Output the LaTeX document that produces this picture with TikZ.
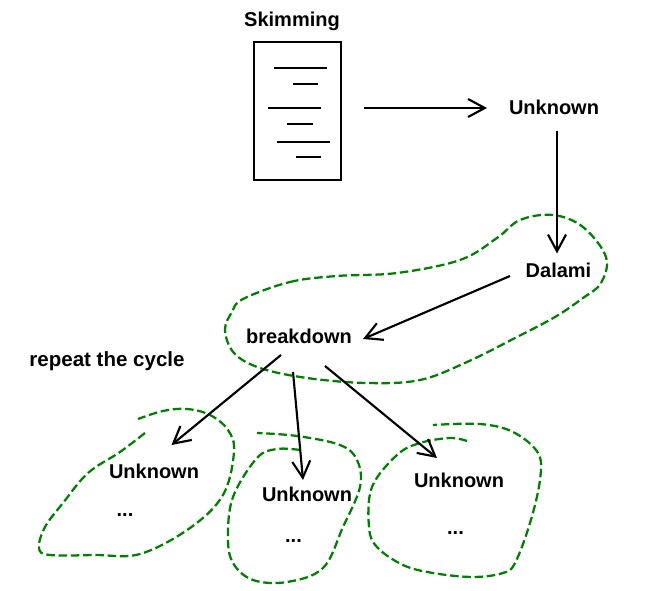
\documentclass[tikz,border=0pt]{standalone}
\usepackage{fontspec}
\setmainfont{Liberation Sans}
\usepackage{tikz}
\usetikzlibrary{arrows.meta}

\begin{document}
\begin{tikzpicture}[x=0.75pt,y=-0.75pt]
\tikzstyle{every node}+=[inner sep=0pt]
\tikzstyle{word}=[font=\fontsize{15}{18}\selectfont\bfseries]
\tikzstyle{page}=[draw=black,line width=1.6pt,minimum width=65.25pt,minimum height=103.5pt]
\tikzstyle{textline}=[black,line width=1.6pt]
\tikzstyle{flow}=[black,line width=1.6pt,-{Straight Barb[length=12.5pt,width=13.5pt,line width=1.6pt]}]
\tikzstyle{blob}=[green!50!black,line width=1.7pt,dash pattern=on 6.4pt off 2.8pt]
\useasboundingbox (0,0) rectangle (666,591);
\node [word] (skimming) at (292,21.5) {Skimming};
\node [page] (doc) at (297.5,111) {};
\node [word] (unknowntop) at (554,107) {Unknown};
\node [word] (dalami) at (558.5,270) {Dalami};
\node [word] (breakdown) at (299,336) {breakdown};
\node [word,font=\fontsize{15.4}{18}\selectfont\bfseries] (repeat) at (107,361.5) {repeat the cycle};
\node [word] (unknownl) at (154,471.5) {Unknown};
\node [word] (dotsl) at (125,515) {...};
\node [word] (unknownm) at (307,494.5) {Unknown};
\node [word] (dotsm) at (293.5,541) {...};
\node [word] (unknownr) at (459,480) {Unknown};
\node [word] (dotsr) at (455.5,533) {...};
\draw [textline] (274,68) -- (327,68);
\draw [textline] (293,84) -- (318,84);
\draw [textline] (268,108) -- (321,108);
\draw [textline] (287,124) -- (313,124);
\draw [textline] (277,142) -- (330,142);
\draw [textline] (296,157) -- (321,157);
\draw [blob] plot [smooth cycle,tension=0.6] coordinates {(243,299) (290,282) (337,276) (397,273) (460,260) (497,238) (520,220) (553,215) (583,227) (606,257) (601,283) (583,298) (555,317) (517,337) (467,362) (420,380) (367,383) (307,378) (260,368) (234,353) (225,330) (232,312)};
\draw [blob] plot [smooth,tension=0.6] coordinates {(145,433) (120,452) (88,473) (63,503) (45,527) (39,548) (50,555) (95,555) (140,554) (190,528) (223,495) (234,452) (228,430) (210,415) (187,409) (163,411) (138,419)};
\draw [blob] plot [smooth,tension=0.6] coordinates {(300,450) (277,449) (257,458) (233,497) (228,537) (233,563) (253,580) (287,582) (323,568) (343,527) (360,487) (357,460) (340,445) (297,436) (257,433)};
\draw [blob] plot [smooth,tension=0.6] coordinates {(467,441) (450,438) (420,443) (397,455) (372,487) (369,527) (377,547) (403,565) (433,573) (473,577) (503,573) (515,563) (530,523) (540,480) (538,453) (513,432) (480,424) (433,425)};
\draw [flow] ([shift={(66.5,-3)}]doc.center) -- ([shift={(-67,1)}]unknowntop.center);
\draw [flow] ([shift={(3,24)}]unknowntop.center) -- ([shift={(-1.5,-16.5)}]dalami.center);
\draw [flow] ([shift={(-48.5,6)}]dalami.center) -- ([shift={(64,3)}]breakdown.center);
\draw [flow] ([shift={(-18,19)}]breakdown.center) -- ([shift={(17.5,-26.5)}]unknownl.center);
\draw [flow] ([shift={(-6,36)}]breakdown.center) -- ([shift={(-4,-14.5)}]unknownm.center);
\draw [flow] ([shift={(26,30)}]breakdown.center) -- ([shift={(-22,-22)}]unknownr.center);
\end{tikzpicture}
\end{document}
